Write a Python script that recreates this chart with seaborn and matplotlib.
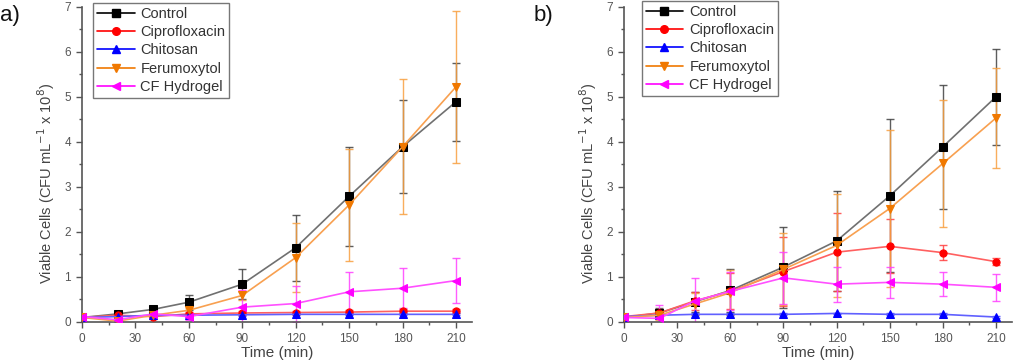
import numpy as np
import pandas as pd
import matplotlib
matplotlib.use("Agg")
import matplotlib.pyplot as plt
from matplotlib.ticker import MultipleLocator
import seaborn as sns

sns.set_style("white")
plt.rcParams['font.family'] = ['Liberation Sans', 'DejaVu Sans']

time = [0, 20, 40, 60, 90, 120, 150, 180, 210]
series_names = ["Control", "Ciprofloxacin", "Chitosan", "Ferumoxytol", "CF Hydrogel"]

# Panel a
a_control = [0.10, 0.18, 0.28, 0.44, 0.84, 1.65, 2.79, 3.89, 4.89]
a_control_err = [0.05, 0.05, 0.07, 0.17, 0.34, 0.73, 1.10, 1.03, 0.86]
a_cipro = [0.10, 0.15, 0.12, 0.18, 0.20, 0.21, 0.22, 0.24, 0.24]
a_cipro_err = [0.03, 0.03, 0.05, 0.05, 0.04, 0.04, 0.04, 0.04, 0.04]
a_chitosan = [0.10, 0.12, 0.15, 0.15, 0.16, 0.17, 0.17, 0.17, 0.17]
a_chitosan_err = [0.02, 0.02, 0.02, 0.02, 0.02, 0.02, 0.02, 0.02, 0.02]
a_ferum = [0.10, 0.02, 0.15, 0.26, 0.59, 1.43, 2.60, 3.89, 5.22]
a_ferum_err = [0.03, 0.03, 0.05, 0.06, 0.10, 0.77, 1.25, 1.50, 1.68]
a_hydrogel = [0.12, 0.05, 0.18, 0.12, 0.33, 0.41, 0.67, 0.75, 0.92]
a_hydrogel_err = [0.03, 0.05, 0.05, 0.08, 0.38, 0.40, 0.45, 0.45, 0.50]

# Panel b
b_control = [0.10, 0.20, 0.45, 0.70, 1.22, 1.80, 2.80, 3.89, 5.00]
b_control_err = [0.03, 0.10, 0.22, 0.48, 0.90, 1.12, 1.70, 1.37, 1.07]
b_cipro = [0.12, 0.20, 0.47, 0.68, 1.12, 1.55, 1.68, 1.54, 1.34]
b_cipro_err = [0.03, 0.08, 0.20, 0.40, 0.76, 0.87, 0.60, 0.16, 0.08]
b_chitosan = [0.12, 0.15, 0.17, 0.17, 0.17, 0.19, 0.17, 0.17, 0.11]
b_chitosan_err = [0.02, 0.02, 0.02, 0.02, 0.02, 0.02, 0.02, 0.02, 0.02]
b_ferum = [0.10, 0.15, 0.40, 0.65, 1.17, 1.70, 2.52, 3.52, 4.53]
b_ferum_err = [0.03, 0.10, 0.25, 0.50, 0.80, 1.15, 1.74, 1.40, 1.10]
b_hydrogel = [0.10, 0.08, 0.47, 0.68, 0.98, 0.84, 0.88, 0.84, 0.77]
b_hydrogel_err = [0.03, 0.30, 0.50, 0.42, 0.58, 0.39, 0.34, 0.27, 0.30]

marker_colors = ["#000000", "#ff0000", "#0000ff", "#f07800", "#ff00ff"]
line_colors = ["#707070", "#ff6060", "#6060ff", "#f8a050", "#ff50ff"]
err_colors = ["#404040", "#ff4040", "#4040ff", "#f8a040", "#ff40ff"]
markers = ["s", "o", "^", "v", "<"]

panels = [
    ([a_control, a_cipro, a_chitosan, a_ferum, a_hydrogel],
     [a_control_err, a_cipro_err, a_chitosan_err, a_ferum_err, a_hydrogel_err], "a)"),
    ([b_control, b_cipro, b_chitosan, b_ferum, b_hydrogel],
     [b_control_err, b_cipro_err, b_chitosan_err, b_ferum_err, b_hydrogel_err], "b)"),
]

fig = plt.figure(figsize=(10.18, 3.64), dpi=100)
ax_pos = [[0.0806, 0.1154, 0.383, 0.866], [0.613, 0.1154, 0.381, 0.866]]
label_pos = [(0.0, 0.957), (0.524, 0.957)]
legend_anchor = [(0.028, 1.012), (0.046, 1.018)]
text_gray = "#555555"

for (vals, errs, lab), pos, lp, la in zip(panels, ax_pos, label_pos, legend_anchor):
    ax = fig.add_axes(pos)
    rows = []
    for name, v in zip(series_names, vals):
        for t, y in zip(time, v):
            rows.append({"Time": t, "Value": y, "Series": name})
    df = pd.DataFrame(rows)
    for i, name in enumerate(series_names):
        ax.errorbar(time, vals[i], yerr=errs[i], fmt='none', ecolor=err_colors[i],
                    elinewidth=1.0, capsize=3, capthick=1.0, zorder=2, alpha=0.85)
    for i, name in enumerate(series_names):
        sub = df[df["Series"] == name]
        sns.lineplot(data=sub, x="Time", y="Value", ax=ax, color=line_colors[i],
                     marker=markers[i], markersize=5.2, markerfacecolor=marker_colors[i],
                     markeredgecolor=marker_colors[i], linewidth=1.2, label=name,
                     zorder=3 + i, legend=False, errorbar=None)
    handles = [plt.Line2D([], [], color=marker_colors[i], marker=markers[i], markersize=5.5,
                          linewidth=1.2) for i in range(5)]
    leg = ax.legend(handles, series_names, loc="upper left", bbox_to_anchor=la,
                    frameon=True, fancybox=False, fontsize=10.5, handlelength=2.6,
                    handletextpad=0.4, borderpad=0.25, labelspacing=0.3,
                    borderaxespad=0.0)
    leg.get_frame().set_edgecolor("#555555")
    leg.get_frame().set_linewidth(1.0)
    for t in leg.get_texts():
        t.set_color("#333333")
    ax.set_xlim(0, 219)
    ax.set_ylim(0, 7)
    ax.xaxis.set_major_locator(MultipleLocator(30))
    ax.xaxis.set_minor_locator(MultipleLocator(15))
    ax.yaxis.set_major_locator(MultipleLocator(1))
    ax.yaxis.set_minor_locator(MultipleLocator(0.5))
    ax.tick_params(which="major", direction="out", length=4, width=1, color="#555555",
                   labelsize=8.5, labelcolor=text_gray, bottom=True, left=True, pad=4)
    ax.tick_params(which="minor", direction="out", length=2.5, width=1, color="#555555",
                   bottom=True, left=True)
    for s in ["top", "right"]:
        ax.spines[s].set_visible(False)
    for s in ["left", "bottom"]:
        ax.spines[s].set_color("#555555")
        ax.spines[s].set_linewidth(1.2)
    ax.set_xlabel("Time (min)", fontsize=11, color="#444444", labelpad=1)
    ax.set_ylabel("Viable Cells (CFU mL$^{-1}$ x 10$^{8}$)", fontsize=10.5, color="#444444",
                  labelpad=4)
    ax.yaxis.set_label_coords(-0.064, 0.44)
    ax.grid(False)
    fig.text(lp[0], lp[1], lab, fontsize=16, color="#111111", va="center")

fig.savefig("out.png", dpi=100)
